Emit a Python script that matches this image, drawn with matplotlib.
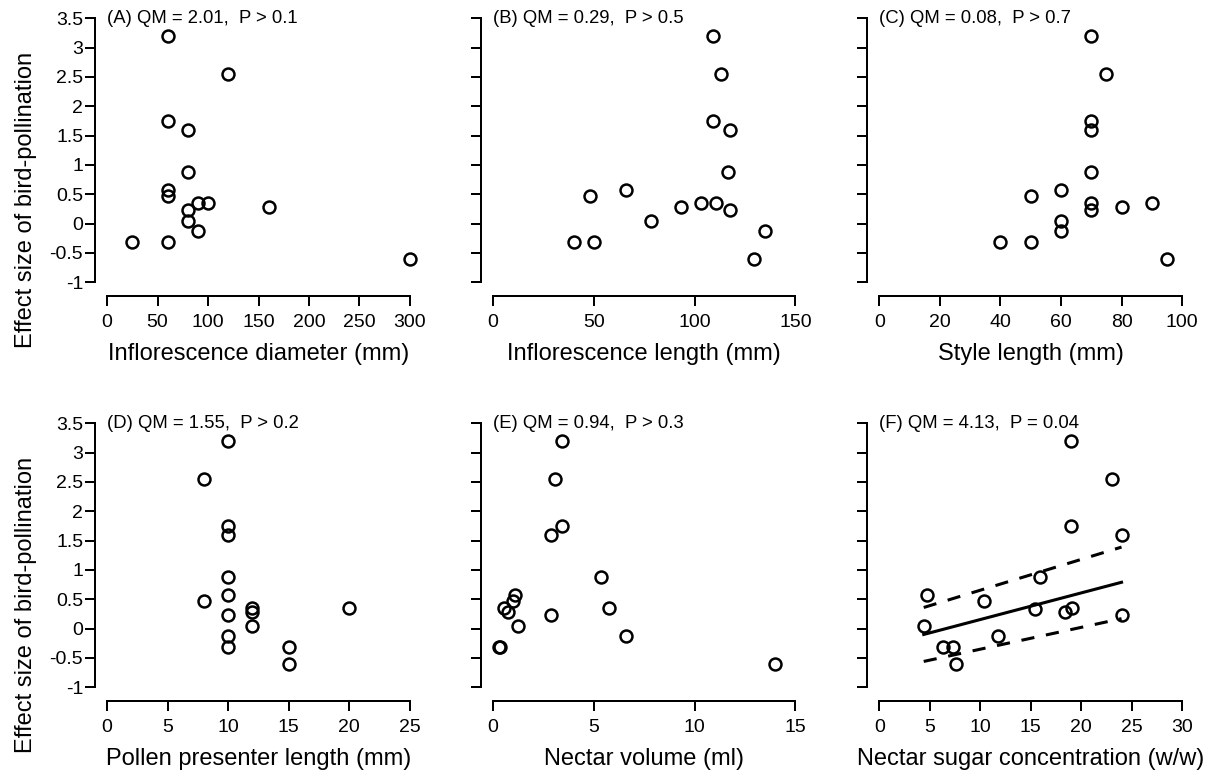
import matplotlib
matplotlib.use("Agg")
import matplotlib.pyplot as plt

plt.rcParams['font.family'] = ['Liberation Sans', 'DejaVu Sans']
plt.rcParams['lines.scale_dashes'] = False

# Effect size of bird-pollination (same species order in each panel)
effect = [3.2, 2.55, 1.75, 1.6, 0.88, 0.57, 0.47, 0.35, 0.35, 0.29, 0.24, 0.05, -0.13, -0.32, -0.32, -0.6]

infl_diameter = [60, 120, 60, 80, 80, 60, 60, 90, 100, 160, 80, 80, 90, 25, 60, 300]
infl_length = [109, 113, 109, 117.5, 116.5, 66, 48, 110.5, 103, 93.5, 117.5, 78.5, 135, 40.5, 50, 129.5]
style_length = [70, 75, 70, 70, 70, 60, 50, 90, 70, 80, 70, 60, 60, 40, 50, 95]
pollen_presenter = [10, 8, 10, 10, 10, 10, 8, 12, 20, 12, 10, 12, 10, 10, 15, 15]
nectar_volume = [3.45, 3.1, 3.45, 2.9, 5.35, 1.1, 1.0, 0.55, 5.75, 0.75, 2.9, 1.25, 6.6, 0.3, 0.35, 14.0]
sugar_conc = [19.0, 23.1, 19.0, 24.0, 15.9, 4.7, 10.4, 19.1, 15.4, 18.4, 24.0, 4.4, 11.8, 6.3, 7.3, 7.6]
effect_f = [3.2, 2.55, 1.75, 1.6, 0.88, 0.57, 0.47, 0.35, 0.33, 0.29, 0.24, 0.05, -0.13, -0.32, -0.32, -0.6]

# Meta-regression fit for panel F (line and confidence limits)
fit_x = [4.4, 24.0]
fit_y = [-0.10, 0.79]
ci_upper = [0.36, 1.39]
ci_lower = [-0.56, 0.17]

panels = [
    ("(A) QM = 2.01,  P > 0.1", "Inflorescence diameter (mm)", infl_diameter, effect, (0, 300), [0, 50, 100, 150, 200, 250, 300]),
    ("(B) QM = 0.29,  P > 0.5", "Inflorescence length (mm)", infl_length, effect, (0, 150), [0, 50, 100, 150]),
    ("(C) QM = 0.08,  P > 0.7", "Style length (mm)", style_length, effect, (0, 100), [0, 20, 40, 60, 80, 100]),
    ("(D) QM = 1.55,  P > 0.2", "Pollen presenter length (mm)", pollen_presenter, effect, (0, 25), [0, 5, 10, 15, 20, 25]),
    ("(E) QM = 0.94,  P > 0.3", "Nectar volume (ml)", nectar_volume, effect, (0, 15), [0, 5, 10, 15]),
    ("(F) QM = 4.13,  P = 0.04", "Nectar sugar concentration (w/w)", sugar_conc, effect_f, (0, 30), [0, 5, 10, 15, 20, 25, 30]),
]
y_ticks = [-1, -0.5, 0, 0.5, 1, 1.5, 2, 2.5, 3, 3.5]
y_ticklabels = ["-1", "-0.5", "0", "0.5", "1", "1.5", "2", "2.5", "3", "3.5"]

W, H = 1216, 773
fig = plt.figure(figsize=(W / 100, H / 100), dpi=100)

lefts = [95, 480.6, 867.2]
tops = [7.8, 412.8]
aw, ah = 327, 285

lw = 2.0 * 0.72
for i, (title, xlabel, xs, ys, xr, xt) in enumerate(panels):
    r, c = divmod(i, 3)
    ax = fig.add_axes([lefts[c] / W, 1 - (tops[r] + ah) / H, aw / W, ah / H])
    ext = 0.04 * (xr[1] - xr[0])
    ax.set_xlim(xr[0] - ext, xr[1] + ext)
    ax.set_ylim(-1 - 0.18, 3.5 + 0.18)
    for s in ("top", "right"):
        ax.spines[s].set_visible(False)
    ax.spines["left"].set_bounds(-1, 3.5)
    ax.spines["bottom"].set_bounds(xr[0], xr[1])
    for s in ("left", "bottom"):
        ax.spines[s].set_linewidth(lw)
    ax.spines["bottom"].set_position(("outward", 2))
    ax.set_xticks(xt)
    ax.set_xticklabels([str(v) for v in xt])
    ax.set_yticks(y_ticks)
    if c == 0:
        ax.set_yticklabels(y_ticklabels)
        ax.set_ylabel("Effect size of bird-pollination", fontsize=17)
        ax.yaxis.set_label_coords(-0.178, 0.327)
    else:
        ax.set_yticklabels([])
    ax.tick_params(axis="both", direction="out", length=7, width=lw, labelsize=14, color="black")
    ax.tick_params(axis="y", pad=1.5)
    ax.tick_params(axis="x", pad=6)
    ax.set_xlabel(xlabel, fontsize=17, labelpad=9)
    ax.plot(xs, ys, linestyle="none", marker="o", markersize=8.6, markerfacecolor="none",
            markeredgecolor="black", markeredgewidth=1.8, clip_on=False)
    ax.text(0, 3.5, title, ha="left", va="center", fontsize=13.3)
    if i == 5:
        ax.plot(fit_x, fit_y, color="black", linewidth=2.2)
        ax.plot(fit_x, ci_upper, color="black", linewidth=2.2, linestyle=(0, (9.5, 8.5)))
        ax.plot(fit_x, ci_lower, color="black", linewidth=2.2, linestyle=(0, (9.5, 8.5)))

fig.savefig("out.png", dpi=100)
